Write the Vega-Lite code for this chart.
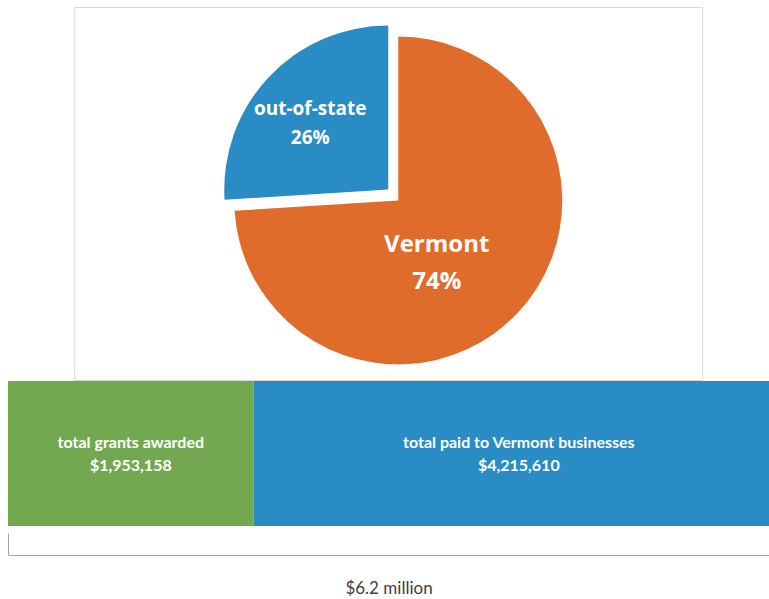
{
  "$schema": "https://vega.github.io/schema/vega-lite/v6.json",
  "padding": {"left": 8, "top": 6, "right": 0, "bottom": 0},
  "background": "white",
  "config": {"view": {"stroke": null}, "font": "Lato"},
  "datasets": {
    "origin": [
      {"region": "Vermont", "share": 74, "label": "Vermont\n74%"},
      {"region": "out-of-state", "share": 26, "label": "out-of-state\n26%"}
    ],
    "funds": [
      {"category": "total grants awarded", "amount": 1953158},
      {"category": "total paid to Vermont businesses", "amount": 4215610}
    ]
  },
  "spacing": 0,
  "center": true,
  "vconcat": [
    {
      "width": 628,
      "height": 373,
      "view": {"stroke": "#d9d9d9", "strokeWidth": 1},
      "data": {"name": "origin"},
      "encoding": {
        "theta": {"field": "share", "type": "quantitative", "stack": true},
        "order": {"field": "region", "type": "ordinal", "sort": "ascending"}
      },
      "layer": [
        {
          "mark": {"type": "arc", "outerRadius": 164, "xOffset": 10, "yOffset": 7},
          "encoding": {
            "fill": {"field": "region", "type": "nominal", "scale": {"domain": ["Vermont", "out-of-state"], "range": ["#e06c2c", "#298cc4"]}, "legend": null},
            "opacity": {"condition": {"test": "datum.region === 'Vermont'", "value": 1}, "value": 0}
          }
        },
        {
          "mark": {"type": "arc", "outerRadius": 164, "xOffset": 0, "yOffset": -4},
          "encoding": {
            "fill": {"field": "region", "type": "nominal", "scale": {"domain": ["Vermont", "out-of-state"], "range": ["#e06c2c", "#298cc4"]}, "legend": null},
            "opacity": {"condition": {"test": "datum.region === 'out-of-state'", "value": 1}, "value": 0}
          }
        },
        {
          "mark": {"type": "text", "radius": 72, "xOffset": 10, "yOffset": 7, "dx": -14, "dy": -5, "font": "Open Sans", "fontSize": 24, "fontWeight": "bold", "fill": "white", "lineBreak": "\n", "lineHeight": 37, "align": "center", "baseline": "middle"},
          "encoding": {
            "text": {"field": "label"},
            "opacity": {"condition": {"test": "datum.region === 'Vermont'", "value": 1}, "value": 0}
          }
        },
        {
          "mark": {"type": "text", "radius": 118, "xOffset": 10, "yOffset": 7, "dx": -2, "dy": -11, "font": "Open Sans", "fontSize": 19, "fontWeight": "bold", "fill": "white", "lineBreak": "\n", "lineHeight": 29, "align": "center", "baseline": "middle"},
          "encoding": {
            "text": {"field": "label"},
            "opacity": {"condition": {"test": "datum.region === 'out-of-state'", "value": 1}, "value": 0}
          }
        }
      ]
    },
    {
      "spacing": 7,
      "vconcat": [
        {
          "width": 761,
          "height": 145,
          "data": {"name": "funds"},
          "encoding": {
            "y": {"datum": "funds", "type": "nominal", "scale": {"paddingInner": 0, "paddingOuter": 0}, "axis": null}
          },
          "layer": [
            {
              "mark": {"type": "bar", "clip": true},
              "encoding": {
                "x": {"field": "amount", "type": "quantitative", "stack": "zero", "scale": {"domain": [0, 6050000], "nice": false, "zero": false}, "axis": null},
                "order": {"field": "category", "type": "ordinal", "sort": "ascending"},
                "color": {"field": "category", "type": "nominal", "scale": {"domain": ["total grants awarded", "total paid to Vermont businesses"], "range": ["#72a950", "#298cc4"]}, "legend": null}
              }
            },
            {
              "transform": [
                {"stack": "amount", "groupby": [], "sort": [{"field": "category", "order": "ascending"}], "as": ["x0", "x1"]},
                {"fold": ["x0", "x1"], "as": ["edge", "pos"]}
              ],
              "mark": {"type": "text", "dy": -11, "font": "Lato", "fontWeight": "bold", "fontSize": 16, "fill": "white"},
              "encoding": {
                "x": {"aggregate": "mean", "field": "pos", "type": "quantitative", "scale": {"domain": [0, 6050000], "nice": false, "zero": false}, "axis": null},
                "text": {"field": "category", "type": "nominal"}
              }
            },
            {
              "transform": [
                {"stack": "amount", "groupby": [], "sort": [{"field": "category", "order": "ascending"}], "as": ["x0", "x1"]},
                {"fold": ["x0", "x1"], "as": ["edge", "pos"]}
              ],
              "mark": {"type": "text", "dy": 12, "font": "Lato", "fontWeight": "bold", "fontSize": 16, "fill": "white"},
              "encoding": {
                "x": {"aggregate": "mean", "field": "pos", "type": "quantitative", "scale": {"domain": [0, 6050000], "nice": false, "zero": false}, "axis": null},
                "text": {"field": "amount", "type": "quantitative", "format": "$,.0f"}
              }
            }
          ]
        },
        {
          "width": 761,
          "height": 22,
          "data": {"name": "funds"},
          "mark": {"type": "point", "opacity": 0},
          "encoding": {
            "x": {"field": "amount", "type": "quantitative", "scale": {"domain": [0, 6050000], "nice": false},
              "axis": {"domain": true, "domainColor": "#a6a6a6", "ticks": false, "labels": false, "grid": false, "title": "$6.2 million", "titleFont": "Lato", "titleFontSize": 17, "titleFontWeight": "normal", "titleColor": "#404040", "titlePadding": 25}},
            "y": {"field": "category", "type": "nominal",
              "axis": {"domain": true, "domainColor": "#a6a6a6", "ticks": false, "labels": false, "grid": false, "title": null}}
          }
        }
      ]
    }
  ]
}
